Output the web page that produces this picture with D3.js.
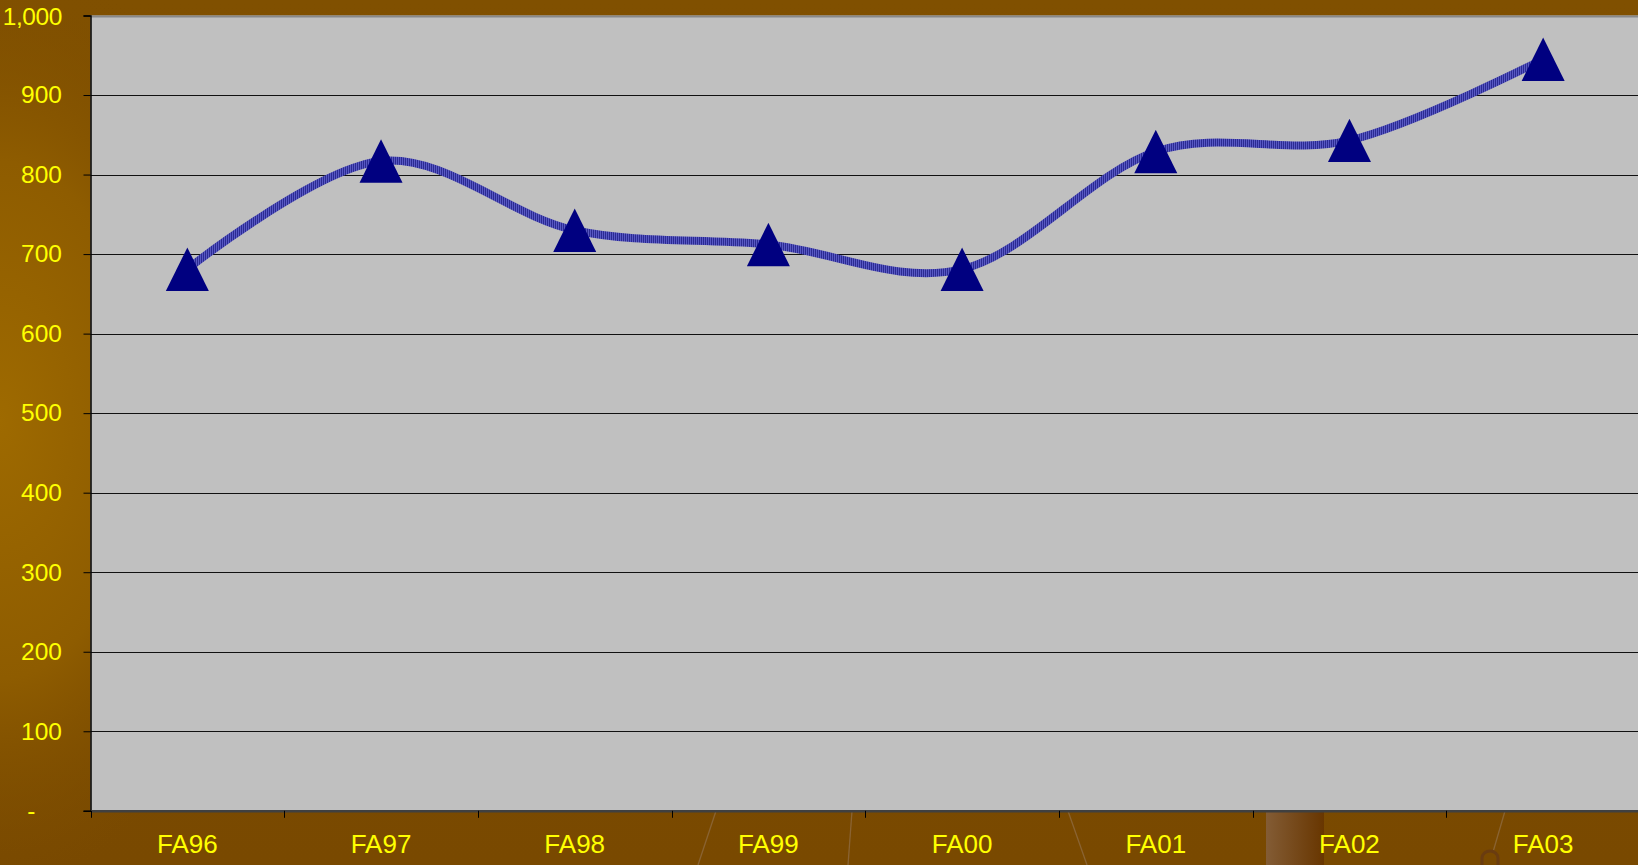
<!DOCTYPE html>
<html>
<head>
<meta charset="utf-8">
<script src="https://cdn.jsdelivr.net/npm/d3@7"></script>
<style>
  html, body { margin: 0; padding: 0; background: #7c4c00; }
  svg { display: block; }
  text { font-family: "Liberation Sans", Arial, sans-serif; }
</style>
</head>
<body>
<script>
// ---- data ----
const categories = ["FA96", "FA97", "FA98", "FA99", "FA00", "FA01", "FA02", "FA03"];
const enrollment = [681, 817, 730, 712, 681, 829, 843, 945];
const yTickValues = [0, 100, 200, 300, 400, 500, 600, 700, 800, 900, 1000];
const yTickLabels = ["-", "100", "200", "300", "400", "500", "600", "700", "800", "900", "1,000"];

const W = 1638, H = 865;
const svg = d3.select("body").append("svg").attr("width", W).attr("height", H);
const defs = svg.append("defs");

// background gradients
const baseG = defs.append("linearGradient").attr("id", "bgBase")
  .attr("x1", 0).attr("y1", 0).attr("x2", 0).attr("y2", 1);
baseG.append("stop").attr("offset", 0).attr("stop-color", "#805000");
baseG.append("stop").attr("offset", 1).attr("stop-color", "#794900");

const glow = defs.append("radialGradient").attr("id", "bgGlow");
glow.append("stop").attr("offset", 0).attr("stop-color", "#9e6a00");
glow.append("stop").attr("offset", 0.55).attr("stop-color", "#8e5c00");
glow.append("stop").attr("offset", 1).attr("stop-color", "#7d4d00").attr("stop-opacity", 0);

const barG = defs.append("linearGradient").attr("id", "barG")
  .attr("x1", 0).attr("y1", 0).attr("x2", 1).attr("y2", 0);
barG.append("stop").attr("offset", 0).attr("stop-color", "#835c35");
barG.append("stop").attr("offset", 1).attr("stop-color", "#683600");

// striped line pattern
const pat = defs.append("pattern").attr("id", "stripes")
  .attr("patternUnits", "userSpaceOnUse").attr("width", 2).attr("height", 10);
pat.append("rect").attr("x", 0).attr("y", 0).attr("width", 1).attr("height", 10).attr("fill", "#5858c4");
pat.append("rect").attr("x", 1).attr("y", 0).attr("width", 1).attr("height", 10).attr("fill", "#2b2b92");

svg.append("rect").attr("width", W).attr("height", H).attr("fill", "url(#bgBase)");
svg.append("ellipse").attr("cx", 0).attr("cy", 420).attr("rx", 260).attr("ry", 470)
  .attr("fill", "url(#bgGlow)");

// decorative background shapes at bottom (slide artwork)
svg.append("rect").attr("x", 1266).attr("y", 811).attr("width", 58).attr("height", 54).attr("fill", "url(#barG)");
const deco = svg.append("g").attr("fill", "none").attr("stroke", "#8f6a3e").attr("stroke-width", 1.3).attr("opacity", 0.8);
deco.append("line").attr("x1", 716).attr("y1", 811).attr("x2", 698).attr("y2", 865);
deco.append("line").attr("x1", 852).attr("y1", 811).attr("x2", 848).attr("y2", 865);
deco.append("line").attr("x1", 1068).attr("y1", 811).attr("x2", 1087).attr("y2", 865);
deco.append("line").attr("x1", 1505).attr("y1", 811).attr("x2", 1493).attr("y2", 852);
svg.append("path").attr("d", "M1482,865 L1482,858 A8,7 0 0 1 1498,858 L1498,865")
  .attr("fill", "none").attr("stroke", "#6a3c10").attr("stroke-width", 3);

// ---- scales ----
const x = d3.scaleBand().domain(categories).range([90.5, 1640]).padding(0);
const y = d3.scaleLinear().domain([0, 1000]).range([810.8, 15.5]);

// plot area
svg.append("rect")
  .attr("x", x.range()[0]).attr("y", y(1000))
  .attr("width", W - x.range()[0]).attr("height", y(0) - y(1000))
  .attr("fill", "#c0c0c0");

// gridlines
svg.append("g").selectAll("line").data(yTickValues.filter(v => v > 0)).join("line")
  .attr("x1", x.range()[0]).attr("x2", W)
  .attr("y1", d => Math.round(y(d)) + 0.5).attr("y2", d => Math.round(y(d)) + 0.5)
  .attr("stroke", d => d === 1000 ? "#888" : "#111").attr("stroke-width", d => d === 1000 ? 2 : 1);

// y axis
const yAxis = d3.axisLeft(y).tickValues(yTickValues).tickSize(7).tickPadding(21.5)
  .tickFormat((d, i) => yTickLabels[i]);
const gy = svg.append("g").attr("transform", `translate(${x.range()[0]},0)`).call(yAxis);
gy.select(".domain").attr("stroke", "#000").attr("stroke-width", 1.5);
gy.selectAll(".tick line").attr("stroke", "#000");
gy.selectAll(".tick text").attr("fill", "#ffff00").attr("font-size", 24.5)
  .attr("font-family", "'Liberation Sans', Arial, sans-serif");
gy.selectAll(".tick text").filter(d => d === 0).attr("x", -55);
gy.selectAll(".tick text").filter(d => d === 1000).attr("letter-spacing", -0.4).attr("dy", "0.36em");

// x axis
const xAxis = d3.axisBottom(x).tickSize(0).tickPadding(24);
const gx = svg.append("g").attr("transform", `translate(0,${y(0)})`).call(xAxis);
gx.select(".domain").attr("stroke", "#404040").attr("stroke-width", 2.5);
gx.selectAll(".tick text").attr("fill", "#ffff00").attr("font-size", 26)
  .attr("font-family", "'Liberation Sans', Arial, sans-serif");
// boundary tick marks between categories
svg.append("g").selectAll("line").data(categories).join("line")
  .attr("x1", d => Math.round(x(d)) + 0.5).attr("x2", d => Math.round(x(d)) + 0.5)
  .attr("y1", y(0)).attr("y2", y(0) + 7)
  .attr("stroke", "#000").attr("stroke-width", 1);

// ---- line ----
const line = d3.line()
  .x((d, i) => x(categories[i]) + x.bandwidth() / 2)
  .y(d => y(d))
  .curve(d3.curveCatmullRom.alpha(0));
svg.append("path").datum(enrollment)
  .attr("d", line)
  .attr("fill", "none")
  .attr("stroke", "url(#stripes)")
  .attr("stroke-width", 8);

// ---- triangle markers ----
const tri = "M0,-21.7 L21.5,21.7 L-21.5,21.7 Z";
svg.append("g").selectAll("path").data(enrollment).join("path")
  .attr("transform", (d, i) => `translate(${x(categories[i]) + x.bandwidth() / 2},${y(d)})`)
  .attr("d", tri)
  .attr("fill", "#000080");
</script>
</body>
</html>
